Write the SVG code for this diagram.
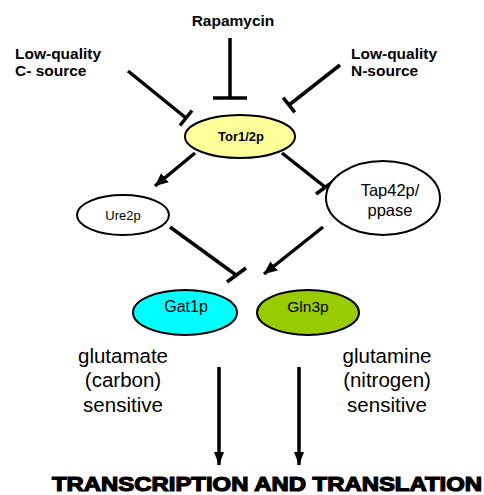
<svg xmlns="http://www.w3.org/2000/svg" width="484" height="495" viewBox="0 0 484 495">
<style>
.lbl{font-family:"Liberation Sans",Arial,sans-serif;fill:#000}
.b{font-weight:bold}
.ln{stroke:#000;stroke-width:3.5;fill:none}
.node{stroke:#000;stroke-width:2}
</style>
<defs>
<marker id="ah" markerUnits="userSpaceOnUse" markerWidth="14" markerHeight="12" refX="13" refY="6" orient="auto"><path d="M0,0 L13,6 L0,12 z" fill="#000"/></marker>
<marker id="ad" markerUnits="userSpaceOnUse" markerWidth="14" markerHeight="10" refX="13" refY="5" orient="auto"><path d="M0,0 L13,5 L0,10 z" fill="#000"/></marker>
</defs>
<rect width="484" height="495" fill="#fff"/>
<g id="labels">
<text class="lbl b" x="233" y="26" font-size="15.5" text-anchor="middle">Rapamycin</text>
<text class="lbl b" x="15" y="59" font-size="15.5">Low-quality</text>
<text class="lbl b" x="15" y="76" font-size="15.5">C- source</text>
<text class="lbl b" x="351" y="59" font-size="15.5">Low-quality</text>
<text class="lbl b" x="351" y="76" font-size="15.5">N-source</text>
<text class="lbl" x="123" y="363" font-size="20.5" text-anchor="middle">glutamate</text>
<text class="lbl" x="123" y="387" font-size="20.5" text-anchor="middle">(carbon)</text>
<text class="lbl" x="123" y="412" font-size="20.5" text-anchor="middle">sensitive</text>
<text class="lbl" x="387" y="363" font-size="20.5" text-anchor="middle">glutamine</text>
<text class="lbl" x="387" y="387" font-size="20.5" text-anchor="middle">(nitrogen)</text>
<text class="lbl" x="387" y="412" font-size="20.5" text-anchor="middle">sensitive</text>
<text class="lbl b" x="52" y="491" font-size="20" textLength="430" lengthAdjust="spacingAndGlyphs" stroke="#000" stroke-width="1.2">TRANSCRIPTION AND TRANSLATION</text>
</g>
<g id="connectors">
<line class="ln" x1="230" y1="38" x2="230" y2="98"/>
<line class="ln" x1="213" y1="98" x2="247" y2="98"/>
<line class="ln" x1="128" y1="71" x2="186" y2="118"/>
<line class="ln" x1="180" y1="125.5" x2="192" y2="110.5"/>
<line class="ln" x1="340" y1="65" x2="289" y2="105"/>
<line class="ln" x1="294.8" y1="112.3" x2="283.2" y2="97.7"/>
<line class="ln" x1="195" y1="153" x2="155" y2="186" marker-end="url(#ah)"/>
<line class="ln" x1="282" y1="153" x2="325" y2="187"/>
<line class="ln" x1="316" y1="194" x2="334" y2="181"/>
<line class="ln" x1="170" y1="227" x2="236" y2="275"/>
<line class="ln" x1="227" y1="282" x2="246" y2="268"/>
<line class="ln" x1="323" y1="227" x2="264" y2="274" marker-end="url(#ah)"/>
<line class="ln" x1="219" y1="367" x2="219" y2="465" marker-end="url(#ad)"/>
<line class="ln" x1="299" y1="367" x2="299" y2="465" marker-end="url(#ad)"/>
</g>
<g id="tor">
<ellipse class="node" cx="240" cy="136.5" rx="55" ry="21.5" fill="#ffff99"/>
<text class="lbl b" x="241" y="141" font-size="13" text-anchor="middle">Tor1/2p</text>
</g>
<g id="ure2p">
<ellipse class="node" cx="123" cy="215" rx="46" ry="20" fill="#fff"/>
<text class="lbl" x="123" y="220" font-size="13" text-anchor="middle">Ure2p</text>
</g>
<g id="tap42p">
<ellipse class="node" cx="383" cy="198" rx="57" ry="37" fill="#fff"/>
<text class="lbl" x="390" y="196" font-size="16.5" text-anchor="middle">Tap42p/</text>
<text class="lbl" x="390" y="216" font-size="16.5" text-anchor="middle">ppase</text>
</g>
<g id="gat1p">
<ellipse class="node" cx="185" cy="312.5" rx="52" ry="22.5" fill="#00ffff"/>
<text class="lbl" x="186" y="312" font-size="16" text-anchor="middle">Gat1p</text>
</g>
<g id="gln3p">
<ellipse class="node" cx="308" cy="312.5" rx="51" ry="22.5" fill="#99cc00"/>
<text class="lbl" x="308" y="312" font-size="15.5" text-anchor="middle">Gln3p</text>
</g>
</svg>
